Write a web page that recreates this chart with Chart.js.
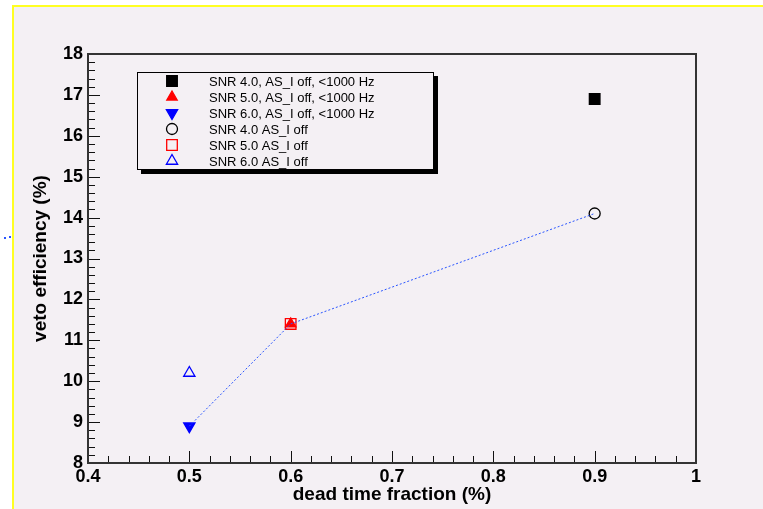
<!DOCTYPE html>
<html>
<head>
<meta charset="utf-8">
<script src="https://cdn.jsdelivr.net/npm/chart.js@4.4.0/dist/chart.umd.min.js"></script>
<style>
  html, body { margin: 0; padding: 0; background: #ffffff; }
  #wrap { position: absolute; left: 0; top: 0; width: 763px; height: 509px; }
</style>
</head>
<body>
<div id="wrap"><canvas id="c" width="763" height="509"></canvas></div>
<script>
// series: one marker each
const seriesLabels = [
  'SNR 4.0, AS_I off, <1000 Hz',
  'SNR 5.0, AS_I off, <1000 Hz',
  'SNR 6.0, AS_I off, <1000 Hz',
  'SNR 4.0 AS_I off',
  'SNR 5.0 AS_I off',
  'SNR 6.0 AS_I off'
];
const deadTime = [0.9, 0.6, 0.5, 0.9, 0.6, 0.5];
const vetoEff = [16.9, 11.4, 8.9, 14.1, 11.4, 10.2];

// dotted connecting line
const lineDead = [0.5, 0.6, 0.9];
const lineEff = [8.9, 11.4, 14.1];

const xTicks = [0.4, 0.5, 0.6, 0.7, 0.8, 0.9, 1.0];
const yTicks = [8, 9, 10, 11, 12, 13, 14, 15, 16, 17, 18];

const bg = '#f4f0f4';
const styles = [
  { pointStyle: 'rect', radius: 7.5, fill: '#000000', stroke: '#000000', rot: 0 },
  { pointStyle: 'triangle', radius: 6, fill: '#ff0000', stroke: '#ff0000', rot: 0 },
  { pointStyle: 'triangle', radius: 6.5, fill: '#0000ff', stroke: '#0000ff', rot: 180 },
  { pointStyle: 'circle', radius: 5.5, fill: 'rgba(0,0,0,0)', stroke: '#000000', rot: 0 },
  { pointStyle: 'rect', radius: 7.5, fill: 'rgba(0,0,0,0)', stroke: '#ff0000', rot: 0 },
  { pointStyle: 'triangle', radius: 6.5, fill: 'rgba(0,0,0,0)', stroke: '#0000ff', rot: 0 }
];

const datasets = [{
  label: '_line',
  data: lineDead.map((x, i) => ({ x: x, y: lineEff[i] })),
  showLine: true,
  borderColor: '#2a55ff',
  borderWidth: 1,
  borderDash: [2, 2],
  pointRadius: 0
}];
seriesLabels.forEach((lab, i) => {
  const s = styles[i];
  datasets.push({
    label: lab,
    data: [{ x: deadTime[i], y: vetoEff[i] }],
    pointStyle: s.pointStyle,
    pointRadius: s.radius,
    pointRotation: s.rot,
    backgroundColor: s.fill,
    borderColor: s.stroke,
    borderWidth: 1.3,
    showLine: false
  });
});

const canvasBg = {
  id: 'canvasBg',
  beforeDraw(chart) {
    const ctx = chart.ctx;
    ctx.save();
    ctx.fillStyle = '#ffffff';
    ctx.fillRect(0, 0, chart.width, chart.height);
    ctx.fillStyle = bg;
    ctx.fillRect(14, 7, chart.width - 14, chart.height - 7);
    ctx.fillStyle = '#ffff22';
    ctx.fillRect(12, 5, chart.width - 12, 2);
    ctx.fillRect(12, 5, 2, chart.height - 5);
    // stray dotted fragment at left edge
    ctx.fillStyle = '#2a55ff';
    ctx.fillRect(4, 237, 2, 2);
    ctx.fillRect(9, 236, 2, 2);
    ctx.restore();
  }
};

const frame = {
  id: 'frame',
  afterDatasetsDraw(chart) {
    const ctx = chart.ctx;
    const a = chart.chartArea;
    const xs = chart.scales.x, ys = chart.scales.y;
    ctx.save();
    ctx.strokeStyle = '#111111';
    ctx.lineWidth = 1;
    // y ticks
    for (let i = 0; i <= 50; i++) {
      const v = 8 + i * 0.2;
      const py = Math.round(ys.getPixelForValue(v)) + 0.5;
      const len = i % 5 === 0 ? 12 : 7;
      ctx.beginPath();
      ctx.moveTo(a.left, py);
      ctx.lineTo(a.left + len, py);
      ctx.stroke();
    }
    // x ticks
    for (let i = 0; i <= 30; i++) {
      const v = 0.4 + i * 0.02;
      const px = Math.round(xs.getPixelForValue(v)) + 0.5;
      const len = i % 5 === 0 ? 12 : 7;
      ctx.beginPath();
      ctx.moveTo(px, a.bottom);
      ctx.lineTo(px, a.bottom - len);
      ctx.stroke();
    }
    ctx.strokeStyle = '#333333';
    ctx.lineWidth = 2;
    ctx.strokeRect(a.left, a.top, a.right - a.left, a.bottom - a.top);
    ctx.restore();
  },
  afterDraw(chart) {
    // legend box
    const ctx = chart.ctx;
    const bx = 137, by = 72, bw = 296, bh = 97;
    ctx.save();
    ctx.fillStyle = '#000000';
    ctx.fillRect(bx + 4, by + bh, bw, 5);
    ctx.fillRect(bx + bw, by + 4, 5, bh + 1);
    ctx.fillStyle = bg;
    ctx.fillRect(bx, by, bw, bh);
    ctx.strokeStyle = '#000000';
    ctx.lineWidth = 1;
    ctx.strokeRect(bx + 0.5, by + 0.5, bw, bh);
    ctx.font = '13px "Liberation Sans", Arial, sans-serif';
    ctx.textBaseline = 'middle';
    ctx.fillStyle = '#000000';
    seriesLabels.forEach((lab, i) => {
      const s = styles[i];
      const cy = by + 9 + i * 16;
      ctx.save();
      ctx.fillStyle = s.fill;
      ctx.strokeStyle = s.stroke;
      ctx.lineWidth = 1.3;
      Chart.helpers.drawPoint(ctx, {
        pointStyle: s.pointStyle,
        radius: s.radius,
        rotation: s.rot,
        borderWidth: 1.3
      }, 172, cy);
      ctx.restore();
      ctx.fillStyle = '#000000';
      ctx.fillText(lab, 209, cy + 1);
    });
    ctx.restore();
  }
};

const tickFont = { family: '"Liberation Sans", Arial, sans-serif', size: 18, weight: 'bold' };
const titleFont = { family: '"Liberation Sans", Arial, sans-serif', size: 19, weight: 'bold', lineHeight: 1.2 };

new Chart(document.getElementById('c'), {
  type: 'scatter',
  data: { datasets: datasets },
  options: {
    responsive: false,
    animation: false,
    devicePixelRatio: 1,
    layout: { padding: { top: 54, right: 67, left: 0, bottom: 0 } },
    plugins: { legend: { display: false }, tooltip: { enabled: false } },
    scales: {
      x: {
        type: 'linear',
        min: 0.4, max: 1.0,
        afterFit(scale) { scale.height = 46; },
        afterBuildTicks(scale) { scale.ticks = xTicks.map(v => ({ value: v })); },
        grid: { display: false, drawTicks: false },
        border: { display: false },
        ticks: {
          padding: 3,
          color: '#000000',
          font: tickFont,
          callback: v => String(Number(v.toFixed(1)))
        },
        title: { display: true, text: 'dead time fraction (%)', color: '#000000', font: titleFont, padding: { top: 0, bottom: 3 } }
      },
      y: {
        type: 'linear',
        min: 8, max: 18,
        afterFit(scale) { scale.width = 88; },
        afterBuildTicks(scale) { scale.ticks = yTicks.map(v => ({ value: v })); },
        grid: { display: false, drawTicks: false },
        border: { display: false },
        ticks: {
          padding: 5,
          color: '#000000',
          font: tickFont,
          callback: v => String(v)
        },
        title: { display: true, text: 'veto efficiency (%)', color: '#000000', font: titleFont, padding: { top: 29, bottom: 0 } }
      }
    }
  },
  plugins: [canvasBg, frame]
});
</script>
</body>
</html>
